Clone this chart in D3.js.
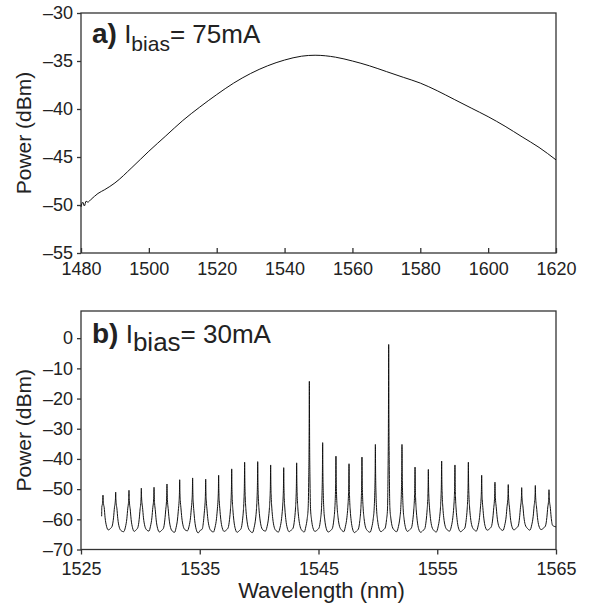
<!DOCTYPE html>
<html>
<head>
<meta charset="utf-8">
<script src="https://cdn.jsdelivr.net/npm/d3@7"></script>
<style>
  body { margin: 0; background: #fff; }
  svg text { font-family: "Liberation Sans", Arial, sans-serif; fill: #222; }
</style>
</head>
<body>
<script>
// ---- data ----

// panel a: broadband ASE spectrum, I_bias = 75 mA
const aWavelength = [1480, 1480.5, 1481, 1481.5, 1482, 1483, 1485, 1487, 1490, 1495, 1500, 1505, 1510, 1515,
  1520, 1525, 1530, 1535, 1540, 1545, 1549, 1555, 1560, 1565, 1570, 1575, 1580, 1585, 1590, 1595,
  1600, 1605, 1610, 1615, 1620];
const aPower = [-50.2, -49.7, -50.1, -49.6, -49.7, -49.4, -48.8, -48.4, -47.7, -46.1, -44.4, -42.8, -41.2, -39.8,
  -38.5, -37.3, -36.3, -35.5, -34.9, -34.5, -34.4, -34.6, -35.0, -35.5, -36.1, -36.7, -37.3, -38.1, -39.0, -39.9,
  -40.8, -41.8, -42.9, -44.0, -45.3];

// panel b: mode comb, I_bias = 30 mA
const bPeakWl = [1526.85, 1527.92, 1529.04, 1530.08, 1531.15, 1532.24, 1533.31, 1534.40, 1535.50, 1536.59,
  1537.69, 1538.78, 1539.88, 1540.97, 1542.07, 1543.16, 1544.23, 1545.35, 1546.47, 1547.57,
  1548.66, 1549.79, 1550.91, 1552.03, 1553.13, 1554.25, 1555.37, 1556.49, 1557.62, 1558.74,
  1559.86, 1560.98, 1562.11, 1563.26, 1564.41];
const bPeakDb = [-52.0, -51.0, -50.4, -49.7, -49.4, -48.3, -46.9, -46.3, -46.7, -45.4,
  -43.3, -41.1, -40.9, -42.0, -42.9, -41.3, -14.3, -34.6, -39.1, -41.6,
  -39.4, -35.2, -2.1, -35.2, -42.7, -43.5, -40.7, -42.0, -41.1, -45.4,
  -47.7, -48.5, -49.5, -48.8, -50.2];
const bValleyDb = [-63.5, -63.8, -64.0, -63.5, -64.2, -63.9, -63.5, -64.5, -63.8, -64.0,
  -64.3, -63.9, -63.6, -63.8, -64.1, -63.7, -64.0, -64.2, -63.5, -64.4,
  -63.8, -64.1, -63.6, -64.0, -64.3, -63.7, -63.5, -64.1, -63.4, -63.6,
  -63.2, -63.5, -63.0, -63.4, -63.2];
// a second floor sample in each gap, for the small noise at the bottom
const bValleyDb2 = [-63.0, -64.1, -63.4, -63.9, -63.6, -64.3, -63.8, -63.6, -64.2, -63.5,
  -63.7, -64.4, -63.9, -64.2, -63.5, -64.2, -63.5, -63.7, -64.1, -63.8,
  -64.3, -63.5, -64.1, -63.4, -63.7, -64.2, -63.9, -63.5, -63.9, -63.1,
  -63.7, -62.9, -63.6, -62.9, -63.0];
const bStart = [1526.74, -59.0];
const bEnd = [1565, -62.5];

// peak profile: offsets from the line centre (nm) and rise above the local floor
const baseOffset = [0.3, 0.18, 0.1];
const baseRise = [1.2, 4, 7.5];
const tipOffset = [0.05, 0.02];
const tipFrac = [0.25, 0.55];

const aTicksX = [1480, 1500, 1520, 1540, 1560, 1580, 1600, 1620];
const aTicksY = [-55, -50, -45, -40, -35, -30];
const bTicksX = [1525, 1535, 1545, 1555, 1565];
const bTicksY = [-70, -60, -50, -40, -30, -20, -10, 0];

// ---- layout ----
const W = 589, H = 607;
const left = 81, right = 556;
const fmt = d => String(d).replace('-', '\u2013');

const svg = d3.select('body').append('svg')
  .attr('width', W)
  .attr('height', H);

const xa = d3.scaleLinear().domain([1480, 1620]).range([left, right]);
const ya = d3.scaleLinear().domain([-55, -30]).range([253, 13]);
const xb = d3.scaleLinear().domain([1525, 1565]).range([left, right]);
const yb = d3.scaleLinear().domain([-70, 9]).range([549.5, 311]);

function drawFrame(x, y, xTicks, yTicks, xInward, labelGap) {
  const [x0, x1] = x.range();
  const [y0, y1] = y.range();
  const g = svg.append('g');

  g.append('rect')
    .attr('x', x0).attr('y', y1)
    .attr('width', x1 - x0).attr('height', y0 - y1)
    .attr('fill', 'none')
    .attr('stroke', '#333')
    .attr('stroke-width', 1.3);

  const xAxis = g.append('g')
    .attr('transform', `translate(0,${y0})`)
    .call(d3.axisBottom(x).tickValues(xTicks).tickSizeOuter(0)
      .tickSizeInner(xInward ? -5 : 5).tickPadding(labelGap).tickFormat(fmt));
  xAxis.select('.domain').remove();

  const yAxis = g.append('g')
    .attr('transform', `translate(${x0},0)`)
    .call(d3.axisLeft(y).tickValues(yTicks).tickSizeOuter(0)
      .tickSize(4).tickPadding(4).tickFormat(fmt));
  yAxis.select('.domain').remove();

  g.selectAll('.tick line').attr('stroke', '#333').attr('stroke-width', 1.3);
  g.selectAll('.tick text')
    .style('font-size', '18px')
    .style('font-family', '"Liberation Sans", Arial, sans-serif')
    .attr('fill', '#222');
  xAxis.selectAll('.tick text').attr('dy', '0.71em');

  // y title
  svg.append('text')
    .attr('transform', `translate(31,${(y0 + y1) / 2}) rotate(-90)`)
    .attr('text-anchor', 'middle')
    .style('font-size', '21px')
    .text('Power (dBm)');
}

function drawLabel(tag, current, y, subSize) {
  const t = svg.append('text')
    .attr('x', 92)
    .attr('y', y)
    .style('font-size', '26px');
  t.append('tspan').style('font-weight', 'bold').style('font-size', '28px').text(tag);
  t.append('tspan').text(' I');
  t.append('tspan').attr('dy', 8).style('font-size', subSize + 'px').text('bias');
  t.append('tspan').attr('dy', -8).text('= ' + current);
}

// ---- panel a ----
drawFrame(xa, ya, aTicksX, aTicksY, true, 9);

const lineA = d3.line()
  .x((d, i) => xa(aWavelength[i]))
  .y(d => ya(d))
  .curve(d3.curveMonotoneX);

svg.append('path')
  .datum(aPower)
  .attr('d', lineA)
  .attr('fill', 'none')
  .attr('stroke', '#111')
  .attr('stroke-width', 1);

drawLabel('a)', '75mA', 43, 21);

// ---- panel b ----
drawFrame(xb, yb, bTicksX, bTicksY, false, 8);

// build the trace from peaks and valley floors
let bPoints = [bStart];
bPeakWl.forEach((wl, i) => {
  const lf = i === 0 ? bValleyDb[0] : bValleyDb[i - 1];
  const rf = bValleyDb[Math.min(i, bValleyDb.length - 1)];
  const side = (floor, sign) => {
    const pts = [];
    baseOffset.forEach((o, k) => pts.push([wl + sign * o, floor + baseRise[k]]));
    const sh = floor + baseRise[baseRise.length - 1];
    tipOffset.forEach((o, k) => pts.push([wl + sign * o, sh + tipFrac[k] * (bPeakDb[i] - sh)]));
    return pts;
  };
  const l = side(lf, -1);
  const r = side(rf, 1).reverse();
  bPoints = bPoints.concat(l.filter(p => p[0] > bStart[0]));
  bPoints.push([wl, bPeakDb[i]]);
  bPoints = bPoints.concat(r);
  if (i < bPeakWl.length - 1) {
    const gap = bPeakWl[i + 1] - wl;
    bPoints.push([wl + gap * 0.42, bValleyDb[i]]);
    bPoints.push([wl + gap * 0.6, bValleyDb2[i]]);
  }
});
bPoints = bPoints.filter(p => p[0] <= bEnd[0]);
bPoints.push(bEnd);

const lineB = d3.line()
  .x(d => xb(d[0]))
  .y(d => yb(d[1]))
  .curve(d3.curveMonotoneX);

svg.append('path')
  .datum(bPoints)
  .attr('d', lineB)
  .attr('fill', 'none')
  .attr('stroke', '#111')
  .attr('stroke-width', 1);

drawLabel('b)', '30mA', 343, 26);

// x title
svg.append('text')
  .attr('x', (left + right) / 2 + 3)
  .attr('y', 598)
  .attr('text-anchor', 'middle')
  .style('font-size', '22px')
  .text('Wavelength (nm)');
</script>
</body>
</html>
